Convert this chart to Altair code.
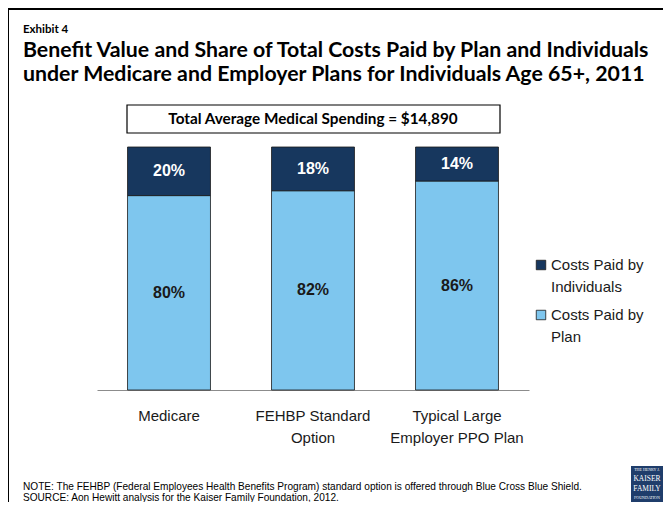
import altair as alt
import pandas as pd

# ---------------- data ----------------
plans = ["Medicare", "FEHBP Standard|Option", "Typical Large|Employer PPO Plan"]
plan_share = [80, 82, 86]
indiv_share = [20, 18, 14]
series = ["Costs Paid by|Individuals", "Costs Paid by|Plan"]
colors = ["#17375E", "#7EC6EE"]

exhibit = "Exhibit 4"
title_lines = [
    "Benefit Value and Share of Total Costs Paid by Plan and Individuals",
    "under Medicare and Employer Plans for Individuals Age 65+, 2011",
]
box_text = "Total Average Medical Spending = $14,890"
notes = [
    "NOTE: The FEHBP (Federal Employees Health Benefits Program) standard option is offered through Blue Cross Blue Shield.",
    "SOURCE: Aon Hewitt analysis for the Kaiser Family Foundation, 2012.",
]
logo_lines = ["THE HENRY J.", "KAISER", "FAMILY", "FOUNDATION"]

# ---------------- layout ----------------
LEFT, TOP, RIGHT, BOTTOM = 89, 139, 134, 112
W, H = 432, 243


def PX(px):
    return px - 8 - LEFT


def PY(py):
    return py - 8 - TOP


rows = []
for p, a, b in zip(plans, plan_share, indiv_share):
    rows.append({"plan": p, "series": series[1], "share": a, "ord": 0})
    rows.append({"plan": p, "series": series[0], "share": b, "ord": 1})
df = pd.DataFrame(rows)

xenc = alt.X(
    "plan:N",
    sort=plans,
    scale=alt.Scale(paddingInner=0.424, paddingOuter=0.212),
    axis=alt.Axis(
        title=None,
        labelAngle=0,
        ticks=False,
        domainColor="#8c8c8c",
        domainWidth=1,
        labelFont="Liberation Sans",
        labelFontSize=15,
        labelColor="#1a1a1a",
        labelPadding=18,
        labelLineHeight=22,
        labelBaseline="top",
        labelExpr="split(datum.label, '|')",
    ),
)

base = alt.Chart(df)

bars = base.mark_bar(stroke="#1a1a1a", strokeWidth=0.8).encode(
    x=xenc,
    y=alt.Y("share:Q", stack="zero", scale=alt.Scale(domain=[0, 100]), axis=None),
    color=alt.Color("series:N", scale=alt.Scale(domain=series, range=colors), legend=None),
    order=alt.Order("ord:Q"),
)

labels = (
    base.transform_stack(
        stack="share", groupby=["plan"], as_=["y0", "y1"], sort=[alt.SortField("ord")]
    )
    .transform_calculate(mid="(datum.y0 + datum.y1) / 2", lab="datum.share + '%'")
    .mark_text(font="Liberation Sans", fontSize=16, fontWeight="bold", baseline="middle")
    .encode(
        x=alt.X("plan:N", sort=plans),
        y=alt.Y("mid:Q"),
        text="lab:N",
        color=alt.Color(
            "ord:N", scale=alt.Scale(domain=[0, 1], range=["#1a1a1a", "#ffffff"]), legend=None
        ),
    )
)

one = pd.DataFrame({"k": [0]})


def txt(s, px, py, **kw):
    return alt.Chart(pd.DataFrame({"t": [s]})).mark_text(**kw).encode(
        text="t:N", x=alt.value(PX(px)), y=alt.value(PY(py))
    )


frame_top = alt.Chart(one).mark_rule(color="#000", strokeWidth=2).encode(
    x=alt.value(PX(7)), x2=alt.value(PX(671)), y=alt.value(PY(9)), y2=alt.value(PY(9))
)
frame_left = alt.Chart(one).mark_rule(color="#000", strokeWidth=2).encode(
    x=alt.value(PX(8)), x2=alt.value(PX(8)), y=alt.value(PY(8)), y2=alt.value(PY(510))
)

exh = txt(exhibit, 23, 33, font="Lato", fontSize=11.5, fontWeight="bold", align="left",
          baseline="alphabetic", color="#000")
title1 = txt(title_lines[0], 23, 57, font="Lato", fontSize=21.3, fontWeight="bold",
             align="left", baseline="alphabetic", color="#000")
title2 = txt(title_lines[1], 23, 81, font="Lato", fontSize=21.3, fontWeight="bold",
             align="left", baseline="alphabetic", color="#000")

box = alt.Chart(one).mark_rect(fill="white", stroke="#000", strokeWidth=1.2).encode(
    x=alt.value(PX(127)), x2=alt.value(PX(500)), y=alt.value(PY(105)), y2=alt.value(PY(133))
)
box_t = txt(box_text, 313, 119, font="Lato", fontSize=15.3, fontWeight="bold",
            align="center", baseline="middle", color="#000")

# legend (manual, to get the two-line labels with the reference spacing)
leg = []
for i, (s, c) in enumerate(zip(series, colors)):
    yy = 265 + i * 50
    leg.append(
        alt.Chart(one).mark_square(size=90, color=c, stroke="#1a1a1a", strokeWidth=0.8, opacity=1).encode(
            x=alt.value(PX(541)), y=alt.value(PY(yy))
        )
    )
    leg.append(
        alt.Chart(pd.DataFrame({"t": [s.split("|")]})).mark_text(
            font="Liberation Sans", fontSize=15, align="left", baseline="middle",
            lineHeight=22, color="#1a1a1a"
        ).encode(text="t", x=alt.value(PX(551)), y=alt.value(PY(yy)))
    )

note1 = txt(notes[0], 23, 490, font="Liberation Sans", fontSize=10.1, align="left",
            baseline="alphabetic", color="#000")
note2 = txt(notes[1], 23, 501, font="Liberation Sans", fontSize=10.1, align="left",
            baseline="alphabetic", color="#000")

logo = alt.Chart(one).mark_rect(fill="#1F3D6B").encode(
    x=alt.value(PX(631)), x2=alt.value(PX(664)), y=alt.value(PY(466)), y2=alt.value(PY(506))
)
logo_txt = [
    txt(logo_lines[0], 647, 470, font="Liberation Serif", fontSize=4, align="center",
        baseline="middle", color="white"),
    txt(logo_lines[1], 647, 479, font="Liberation Serif", fontSize=7.5, align="center",
        baseline="middle", color="white"),
    txt(logo_lines[2], 647, 489, font="Liberation Serif", fontSize=7.5, align="center",
        baseline="middle", color="white"),
    txt(logo_lines[3], 647, 498, font="Liberation Serif", fontSize=4, align="center",
        baseline="middle", color="white"),
]

chart = (
    alt.layer(
        frame_top, frame_left, exh, title1, title2, box, box_t,
        bars, labels, *leg,
        note1, note2, logo, *logo_txt,
    )
    .resolve_scale(color="independent")
    .properties(
        width=W,
        height=H,
        autosize=alt.AutoSizeParams(type="none"),
        padding={"left": LEFT, "top": TOP, "right": RIGHT, "bottom": BOTTOM},
        background="white",
    )
    .configure_view(stroke=None)
)

chart.save("out.html", embed_options={"renderer": "svg", "actions": False})
